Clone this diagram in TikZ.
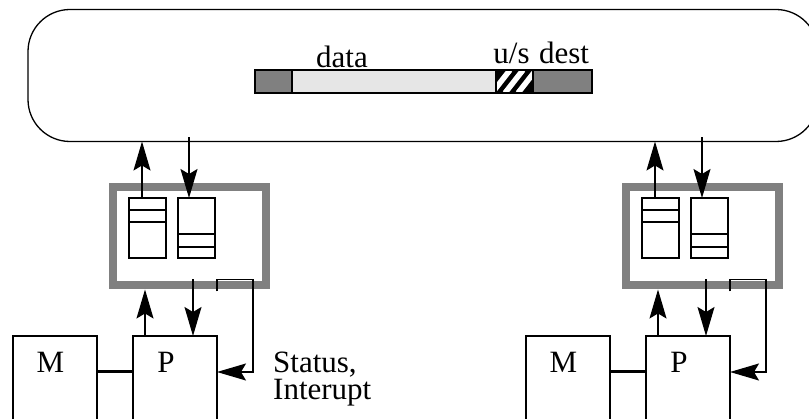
\documentclass[tikz,border=0pt]{standalone}
\usepackage{fontspec}
\setmainfont{Liberation Serif}
\usetikzlibrary{arrows.meta,calc}
\definecolor{dgray}{RGB}{128,128,128}
\definecolor{lgray}{RGB}{230,230,230}
\begin{document}
\begin{tikzpicture}[x=1pt,y=-1pt,
  thinln/.style={line width=1.3pt},
  rect/.style={draw, thinln, inner sep=0pt, outer sep=0pt, anchor=north west},
  seg/.style={draw, thinln, inner sep=0pt, outer sep=0pt, anchor=north west, minimum height=23pt},
  ifbox/.style={draw=dgray, line width=8pt, inner sep=0pt, outer sep=4pt, anchor=north west, minimum width=153pt, minimum height=98pt},
  queue/.style={rect, minimum width=37pt, minimum height=60pt},
  unit/.style={rect, minimum width=84pt, minimum height=130pt},
  lbl/.style={inner sep=0pt, anchor=base, font=\fontsize{31}{27}\selectfont},
  arr/.style={thinln, -{Stealth[length=29pt,width=17pt,inset=5pt]}}]
\useasboundingbox (0,0) rectangle (809,419);
\clip (0,0) rectangle (809,419);
% bus
\node[rect, rounded corners=42pt, minimum width=790pt, minimum height=132pt] (bus) at (28,9.5) {};
% packet
\node[seg, fill=dgray, minimum width=37pt] (s1) at (255,70) {};
\node[seg, fill=lgray, minimum width=204pt] (s2) at (s1.north east) {};
\node[seg, fill=black, minimum width=37pt] (s3) at (s2.north east) {};
\node[seg, fill=dgray, minimum width=59pt] (s4) at (s3.north east) {};
\begin{scope}
  \clip (s3.north west) rectangle (s3.south east);
  \foreach \a in {-4,9,22}{
    \draw[white, line width=5.5pt] ($(s3.south west)+(\a,0)$) -- ++(18,-23);
  }
\end{scope}
\draw[thinln] (s3.north west) rectangle (s3.south east);
\node[lbl] (tdata) at (342,68) {data};
\node[lbl] (tus) at (511.5,64) {u/s};
\node[lbl] (tdest) at (564,64) {dest};
% two stations
\foreach \s/\dx in {L/0,R/513}{
  \begin{scope}[xshift=\dx pt]
    \node[ifbox] (if\s) at (109,183.5) {};
    \node[queue] (qa\s) at (129,198) {};
    \node[queue] (qb\s) at (178,198) {};
    \node[unit] (P\s) at (133,336) {};
    \node[unit] (M\s) at (13,336) {};
  \end{scope}
  \draw[thinln] ($(qa\s.north west)+(0,12)$) -- ($(qa\s.north east)+(0,12)$);
  \draw[thinln] ($(qa\s.north west)+(0,24)$) -- ($(qa\s.north east)+(0,24)$);
  \draw[thinln] ($(qb\s.south west)+(0,-24)$) -- ($(qb\s.south east)+(0,-24)$);
  \draw[thinln] ($(qb\s.south west)+(0,-11)$) -- ($(qb\s.south east)+(0,-11)$);
  \draw[arr] ($(qa\s.north west)+(13,0)$) -- ($(qa\s.north west |- bus.south)+(13,0)$);
  \draw[arr] ($(qb\s.north west |- bus.south)+(11,-4)$) -- ($(qb\s.north west)+(11,0)$);
  \draw[arr] ($(P\s.north west)+(12,0)$) -- ($(P\s.north west |- if\s.south)+(12,0)$);
  \draw[arr] ($(P\s.north west |- if\s.south)+(60,-10)$) -- ($(P\s.north west)+(60,0)$);
  \draw[arr] ($(P\s.north east |- if\s.south)+(0,2)$) -- ++(0,-12) -- ++(36,0)
     -- ($(P\s.north east)+(36,36)$) -- ($(P\s.north east)+(0,36)$);
  \draw[line width=3pt] ($(M\s.north east)+(0,36)$) -- ($(P\s.north west)+(0,36)$);
  \node[lbl] (m\s) at ($(M\s.north)+(-4.5,37)$) {M};
  \node[lbl] (p\s) at ($(P\s.north)+(-9,37)$) {P};
}
\node[lbl, anchor=north west, align=left] (status) at (273,352) {Status,\\Interupt};
\end{tikzpicture}
\end{document}
